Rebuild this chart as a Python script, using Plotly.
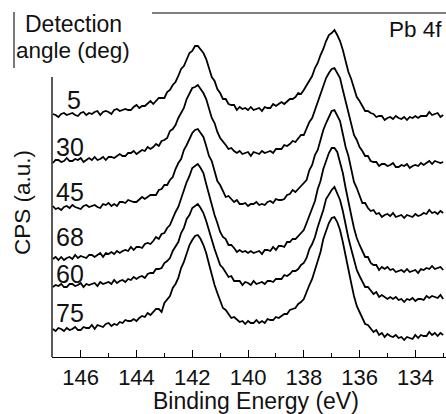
import plotly.graph_objects as go

# ---------------- data ----------------
angles = ["5", "30", "45", "68", "60", "75"]

be_start = 147.0
be_step = 0.1
n_pts = 141
binding_energy = [round(be_start - be_step * i, 1) for i in range(n_pts)]

cps_5 = [243, 242, 240, 243, 244, 242, 243, 244, 242, 241,
         244, 245, 242, 244, 243, 245, 246, 242, 245, 246,
         245, 243, 247, 248, 246, 247, 248, 247, 247, 250,
         252, 249, 251, 251, 254, 256, 253, 256, 259, 259,
         259, 265, 267, 272, 275, 281, 288, 291, 298, 304,
         306, 311, 311, 308, 304, 298, 290, 280, 276, 268,
         264, 258, 258, 253, 252, 252, 247, 250, 248, 249,
         247, 250, 247, 248, 249, 246, 250, 249, 249, 253,
         251, 253, 255, 253, 256, 258, 258, 260, 264, 263,
         267, 272, 277, 281, 289, 294, 302, 308, 316, 322,
         324, 327, 322, 316, 307, 296, 285, 278, 268, 260,
         256, 251, 246, 246, 244, 243, 240, 241, 241, 237,
         239, 240, 238, 241, 239, 238, 240, 237, 240, 239,
         241, 239, 241, 241, 241, 245, 242, 243, 244, 240, 242]

cps_30 = [194, 197, 197, 195, 196, 199, 196, 196, 198, 197,
          199, 195, 197, 199, 197, 200, 197, 198, 200, 197,
          200, 200, 199, 201, 203, 201, 201, 204, 204, 206,
          203, 205, 207, 206, 210, 208, 210, 213, 211, 216,
          217, 219, 226, 228, 232, 239, 244, 249, 258, 263,
          269, 270, 272, 268, 264, 258, 248, 239, 234, 225,
          219, 216, 212, 208, 209, 206, 204, 206, 203, 204,
          205, 201, 205, 204, 203, 206, 204, 205, 206, 204,
          208, 208, 208, 212, 211, 213, 216, 215, 218, 222,
          222, 228, 235, 239, 247, 255, 262, 270, 279, 284,
          288, 289, 284, 279, 267, 255, 246, 233, 222, 217,
          210, 206, 201, 201, 196, 195, 195, 191, 193, 193,
          191, 192, 194, 190, 190, 192, 191, 193, 189, 191,
          192, 191, 194, 192, 194, 196, 193, 196, 195, 194, 195]

cps_45 = [151, 148, 149, 147, 150, 151, 149, 152, 150, 149,
          148, 151, 152, 150, 151, 152, 150, 149, 153, 152,
          154, 151, 153, 151, 155, 155, 154, 157, 156, 155,
          155, 158, 160, 158, 160, 162, 162, 162, 167, 168,
          172, 172, 177, 180, 188, 194, 198, 207, 212, 218,
          224, 227, 228, 224, 220, 211, 201, 196, 185, 176,
          172, 166, 160, 161, 158, 155, 157, 153, 153, 154,
          151, 153, 153, 155, 152, 153, 152, 155, 156, 154,
          158, 157, 157, 158, 162, 163, 167, 165, 168, 171,
          173, 177, 187, 192, 202, 207, 217, 227, 234, 241,
          246, 247, 242, 236, 223, 210, 201, 187, 175, 169,
          161, 154, 154, 149, 146, 147, 143, 144, 140, 142,
          143, 141, 144, 140, 141, 142, 139, 142, 141, 140,
          143, 141, 142, 144, 143, 147, 144, 145, 143, 146, 144]

cps_68 = [98, 100, 97, 100, 97, 99, 100, 98, 102, 99,
          101, 100, 99, 102, 102, 100, 102, 104, 100, 104,
          103, 105, 103, 106, 104, 106, 107, 106, 110, 107,
          110, 110, 109, 113, 114, 113, 116, 120, 118, 123,
          124, 129, 132, 139, 145, 150, 159, 167, 175, 181,
          189, 191, 193, 189, 184, 173, 162, 154, 142, 134,
          125, 120, 118, 112, 112, 109, 105, 107, 105, 106,
          104, 106, 104, 105, 106, 103, 107, 107, 106, 110,
          107, 111, 111, 110, 115, 115, 118, 118, 121, 125,
          127, 134, 142, 149, 156, 168, 176, 188, 196, 204,
          209, 209, 205, 195, 184, 169, 154, 142, 129, 119,
          112, 105, 100, 100, 94, 92, 92, 87, 90, 88,
          90, 87, 88, 85, 86, 87, 85, 88, 85, 86,
          87, 84, 88, 87, 89, 88, 91, 88, 89, 90, 87]

cps_60 = [70, 72, 71, 73, 70, 70, 73, 73, 71, 72,
          74, 70, 73, 72, 73, 74, 71, 75, 73, 74,
          75, 73, 77, 74, 76, 77, 75, 78, 77, 80,
          78, 80, 81, 79, 83, 84, 84, 88, 88, 89,
          94, 96, 99, 106, 110, 115, 124, 129, 138, 142,
          149, 151, 153, 149, 144, 136, 126, 116, 108, 100,
          92, 89, 84, 80, 81, 76, 76, 76, 72, 75,
          74, 72, 76, 73, 74, 75, 73, 76, 76, 75,
          78, 78, 78, 82, 81, 83, 86, 86, 88, 92,
          94, 99, 108, 113, 120, 130, 138, 147, 158, 163,
          167, 170, 164, 157, 146, 132, 119, 108, 96, 87,
          81, 75, 70, 70, 66, 63, 65, 60, 62, 60,
          58, 60, 58, 60, 57, 58, 55, 58, 57, 59,
          56, 58, 58, 57, 61, 59, 61, 60, 59, 62, 58]

cps_75 = [28, 26, 29, 28, 26, 29, 27, 28, 30, 27,
          27, 30, 29, 29, 32, 28, 32, 31, 30, 33,
          34, 31, 33, 32, 35, 34, 37, 36, 36, 38,
          36, 39, 41, 40, 44, 42, 45, 48, 48, 45,
          54, 57, 61, 69, 73, 79, 89, 95, 103, 112,
          117, 121, 122, 118, 112, 104, 93, 81, 72, 64,
          56, 49, 47, 43, 39, 40, 37, 35, 36, 33,
          36, 34, 34, 37, 34, 36, 34, 38, 37, 37,
          40, 39, 41, 43, 43, 47, 48, 49, 53, 55,
          58, 66, 72, 78, 88, 96, 105, 118, 126, 134,
          139, 140, 135, 127, 115, 100, 85, 74, 61, 51,
          45, 38, 33, 32, 29, 25, 27, 22, 24, 20,
          23, 21, 20, 22, 19, 20, 17, 20, 19, 18,
          22, 19, 22, 21, 21, 25, 22, 24, 21, 24, 22]

series = [cps_5, cps_30, cps_45, cps_68, cps_60, cps_75]

x_ticks = [146, 144, 142, 140, 138, 136, 134]
x_minor = [145, 143, 141, 139, 137, 135, 133]

# ---------------- layout constants ----------------
W, H = 446, 414
ML, MR, MT, MB = 52, 0, 13, 57
PW, PH = W - ML - MR, H - MT - MB
FONT = "Liberation Sans, Arial, Helvetica, sans-serif"
INK = "#111111"


def px(xp):
    return (xp - ML) / PW


def py(yp):
    return (H - MB - yp) / PH


fig = go.Figure()
for name, ys in zip(angles, series):
    fig.add_trace(go.Scatter(x=binding_energy, y=ys, mode="lines",
                             line=dict(color="black", width=1.8),
                             name=name, showlegend=False, hoverinfo="skip"))

fig.update_layout(
    width=W, height=H,
    margin=dict(l=ML, r=MR, t=MT, b=MB, pad=0),
    paper_bgcolor="white", plot_bgcolor="white",
    showlegend=False,
    font=dict(family=FONT, color=INK),
)
fig.update_xaxes(
    range=[147.03, 132.9],
    tickvals=x_ticks, ticktext=[str(t) for t in x_ticks],
    ticks="inside", ticklen=7, tickwidth=1.3, tickcolor="black",
    showline=True, linecolor="black", linewidth=1.3,
    showgrid=False, zeroline=False,
    tickfont=dict(family=FONT, size=22, color=INK),
    minor=dict(tickvals=x_minor, ticks="inside", ticklen=4,
               tickwidth=1.3, tickcolor="black", showgrid=False),
)
fig.update_yaxes(range=[0, PH], visible=False)

# partial frame lines
fig.add_shape(type="line", xref="paper", yref="paper",
              x0=0, x1=0, y0=0, y1=py(77),
              line=dict(color="black", width=1.3))
fig.add_shape(type="line", xref="paper", yref="paper",
              x0=px(152), x1=1.0, y0=py(13), y1=py(13),
              line=dict(color="#555555", width=1.5))
fig.add_shape(type="line", xref="paper", yref="paper",
              x0=px(14), x1=px(14), y0=py(68), y1=py(12),
              line=dict(color="#333333", width=1.3))

# curve labels
label_pos = [(74, 100), (70, 147), (70, 192), (70, 237), (70, 274), (70, 313)]
for txt, (lx, ly) in zip(angles, label_pos):
    fig.add_annotation(text=txt, xref="paper", yref="paper", x=px(lx), y=py(ly),
                       xanchor="center", yanchor="middle", showarrow=False,
                       font=dict(family=FONT, size=25, color=INK))

texts = [("Detection", 73, 24, 23, 0), ("angle (deg)", 73, 51, 22.5, 0),
         ("Pb 4f", 415, 30, 22.5, 0), ("CPS (a.u.)", 22, 203, 22.5, -90),
         ("Binding Energy (eV)", 256, 401, 23, 0)]
for txt, tx, ty, size, ang in texts:
    fig.add_annotation(text=txt, xref="paper", yref="paper", x=px(tx), y=py(ty),
                       xanchor="center", yanchor="middle", showarrow=False,
                       textangle=ang, font=dict(family=FONT, size=size, color=INK))

fig.write_html("out.html", config={"displayModeBar": False},
               post_script="document.body.style.margin='0';")
